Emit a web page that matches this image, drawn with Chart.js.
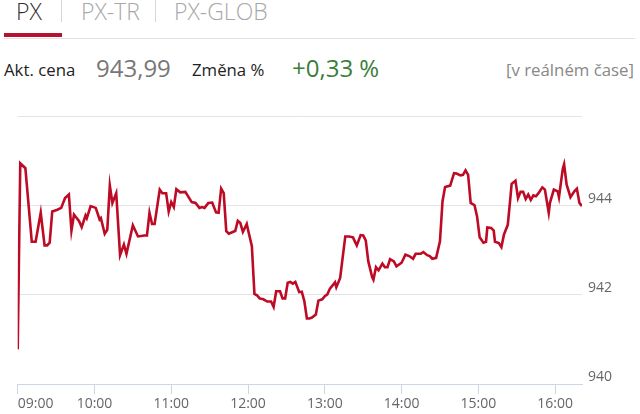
<!DOCTYPE html>
<html>
<head>
<meta charset="utf-8">
<script src="https://cdn.jsdelivr.net/npm/chart.js@4/dist/chart.umd.min.js"></script>
<style>
  html, body { margin:0; padding:0; background:#fff; }
  body { width:640px; height:414px; position:relative; overflow:hidden; font-family:"Open Sans", sans-serif; }
  .abs { position:absolute; white-space:nowrap; line-height:normal; }
  .tab { font-size:23px; font-weight:300; }
  .sep { position:absolute; width:1px; background:#d6d6d6; top:0; height:22px; }
  #chartBox { position:absolute; left:0; top:100px; width:640px; height:314px; }
</style>
</head>
<body>
  <div class="abs tab" style="left:16px; top:-5px; color:#333;">PX</div>
  <div class="sep" style="left:61px;"></div>
  <div class="abs tab" style="left:81px; top:-5px; color:#a8a8a8;">PX-TR</div>
  <div class="sep" style="left:155px;"></div>
  <div class="abs tab" style="left:174px; top:-5px; color:#a8a8a8;">PX-GLOB</div>
  <div style="position:absolute; left:4px; top:38px; width:631px; height:1px; background:#e2e2e2;"></div>
  <div style="position:absolute; left:4px; top:33px; width:58px; height:4px; background:#b5132f;"></div>

  <div class="abs" style="left:4px; top:58px; font-size:16.8px; color:#222;">Akt. cena</div>
  <div class="abs" style="left:96px; top:51px; font-size:24px; color:#777;">943,99</div>
  <div class="abs" style="left:192px; top:58px; font-size:16.8px; color:#222;">Změna %</div>
  <div class="abs" style="left:292px; top:51px; font-size:24px; color:#3b7d3b;">+0,33 %</div>
  <div class="abs" style="right:6px; top:58px; font-size:16.8px; color:#888;">[v reálném čase]</div>

  <div id="chartBox"><canvas id="c"></canvas></div>

<script>
const tickLabels = ['09:00','10:00','11:00','12:00','13:00','14:00','15:00','16:00'];
const yTicks = [940, 942, 944, 946];
const lastTime = '16:21';

const times = [
  '09:00','09:02','09:06','09:11','09:14','09:18','09:21','09:23','09:25','09:27',
  '09:31','09:34','09:37','09:40','09:42','09:44','09:48','09:50','09:53','09:54',
  '09:57','10:01','10:04','10:05','10:08','10:10','10:12','10:14','10:17','10:20',
  '10:23','10:25','10:30','10:34','10:39','10:41','10:43','10:45','10:47','10:51',
  '10:53','10:56','10:58','11:00','11:02','11:04','11:07','11:11','11:16','11:19',
  '11:22','11:24','11:26','11:29','11:32','11:35','11:37','11:39','11:41','11:43',
  '11:45','11:48','11:50','11:52','11:54','11:56','11:59','12:00','12:03','12:05',
  '12:07','12:09','12:12','12:15','12:18','12:20','12:22','12:25','12:27','12:29',
  '12:31','12:33','12:35','12:37','12:40','12:42','12:44','12:46','12:48','12:50',
  '12:53','12:55','12:58','13:00','13:02','13:04','13:08','13:09','13:12','13:16',
  '13:19','13:22','13:25','13:28','13:30','13:32','13:34','13:37','13:38','13:40',
  '13:42','13:45','13:47','13:49','13:51','13:54','13:56','14:00','14:03','14:06',
  '14:09','14:11','14:15','14:17','14:20','14:22','14:24','14:27','14:30','14:32',
  '14:34','14:38','14:41','14:43','14:46','14:48','14:50','14:52','14:54','14:57',
  '14:59','15:01','15:04','15:06','15:07','15:10','15:12','15:13','15:16','15:18',
  '15:20','15:23','15:25','15:26','15:29','15:31','15:33','15:35','15:37','15:39',
  '15:41','15:43','15:45','15:47','15:50','15:52','15:55','15:56','15:59','16:02',
  '16:03','16:06','16:07','16:09','16:12','16:15','16:17','16:19','16:21'
];

const values = [
  940.78,944.95,944.84,943.19,943.19,943.84,943.11,943.11,943.17,943.87,
  943.91,943.95,944.17,944.25,943.44,943.80,943.65,943.52,943.78,943.72,
  943.99,943.95,943.69,943.72,943.37,943.46,944.45,944.06,944.28,942.89,
  943.13,942.92,943.56,943.31,943.33,943.33,943.84,943.59,943.59,944.36,
  944.28,944.28,943.87,944.08,943.97,944.37,944.30,944.31,944.08,944.06,
  943.95,943.97,943.95,944.06,944.07,943.85,943.84,944.38,944.28,943.43,
  943.37,943.41,943.43,943.66,943.61,943.41,943.59,943.46,943.09,942.02,
  941.99,941.92,941.90,941.85,941.85,941.73,942.08,942.08,941.92,941.92,
  942.27,942.29,942.25,942.29,942.06,942.07,941.86,941.47,941.47,941.49,
  941.56,941.87,941.90,941.97,942.01,942.14,942.28,942.17,942.38,943.31,
  943.31,943.29,943.11,943.34,943.33,943.22,942.75,942.40,942.34,942.62,
  942.55,942.70,942.62,942.62,942.80,942.75,942.64,942.72,942.90,942.87,
  942.81,942.92,942.92,942.96,942.89,942.87,942.81,942.83,943.20,944.10,
  944.42,944.45,944.73,944.72,944.68,944.69,944.79,944.69,944.06,944.01,
  943.76,943.29,943.17,943.19,943.51,943.50,943.44,943.19,943.16,943.07,
  943.35,943.57,944.17,944.49,944.56,944.17,944.31,944.31,944.15,944.25,
  944.13,944.23,944.21,944.28,944.41,944.36,943.84,944.07,944.36,944.32,
  944.19,944.83,944.93,944.47,944.19,944.32,944.38,944.06,943.99
];

const toMin = t => { const p = t.split(':').map(Number); return p[0] * 60 + p[1] - 540; };
const X_MAX = toMin(lastTime);
const points = times.map((t, i) => ({ x: toMin(t), y: values[i] }));

const axisColor = '#ccd6eb';
const labelFont = { family: 'Open Sans', size: 14 };

new Chart(document.getElementById('c'), {
  type: 'line',
  data: {
    datasets: [{
      data: points,
      borderColor: '#bd0a25',
      borderWidth: 2.6,
      pointRadius: 0,
      tension: 0,
      fill: false
    }]
  },
  options: {
    responsive: true,
    maintainAspectRatio: false,
    animation: false,
    layout: { padding: { left: 17.7, top: 16.5, right: 0, bottom: 0 } },
    plugins: { legend: { display: false }, tooltip: { enabled: false } },
    scales: {
      x: {
        type: 'linear',
        min: 0,
        max: X_MAX,
        afterBuildTicks: s => {
          s.ticks = tickLabels.map(l => ({ value: toMin(l) })).concat([{ value: X_MAX }]);
        },
        afterFit: s => { s.height = 30; },
        grid: {
          drawOnChartArea: false,
          drawTicks: true,
          tickLength: 10,
          tickColor: ctx => (ctx.tick && ctx.tick.value === X_MAX) ? 'rgba(0,0,0,0)' : axisColor
        },
        border: { color: axisColor, width: 1 },
        ticks: {
          align: 'inner',
          autoSkip: false,
          maxRotation: 0,
          color: '#666',
          font: labelFont,
          padding: 2,
          callback: (v, i) => (i < tickLabels.length ? tickLabels[i] : '')
        }
      },
      y: {
        position: 'right',
        min: 940,
        max: 946,
        afterBuildTicks: s => { s.ticks = yTicks.map(v => ({ value: v })); },
        afterFit: s => { s.width = 58; },
        grid: { color: '#e4e4e4', drawTicks: false, lineWidth: 1 },
        border: { display: false },
        ticks: {
          color: '#666',
          font: labelFont,
          padding: 6,
          labelOffset: -7,
          callback: v => (v === 946 ? '' : String(v))
        }
      }
    }
  }
});
</script>
</body>
</html>
